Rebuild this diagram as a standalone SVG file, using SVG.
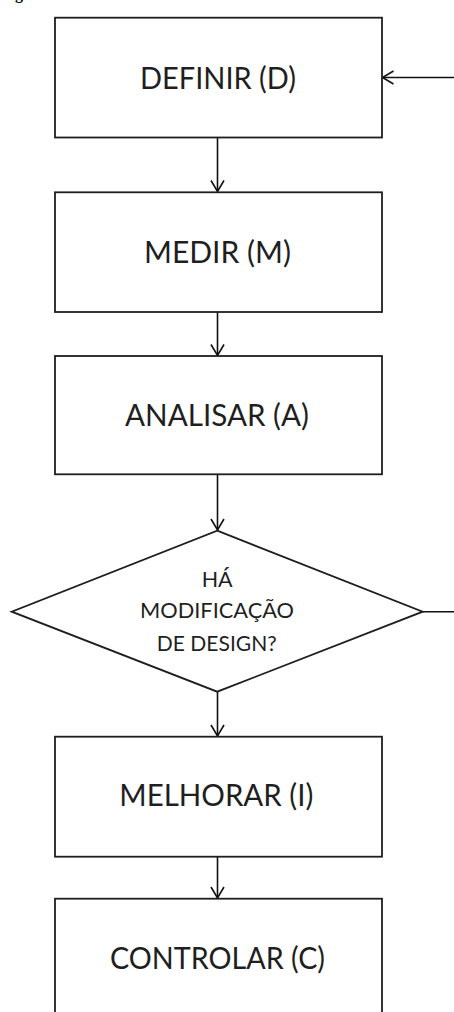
<svg xmlns="http://www.w3.org/2000/svg" width="454" height="1012" viewBox="0 0 454 1012">
<style>
.box{fill:#fff;stroke:#1e1e1e;stroke-width:1.8}
.lbl{font-family:Lato,"Open Sans",sans-serif;font-size:30px;fill:#1f1f1f;text-anchor:middle}
.dl{font-family:Lato,"Open Sans",sans-serif;font-size:21px;fill:#1f1f1f;text-anchor:middle}
.con{fill:none;stroke:#111;stroke-width:1.6}
.cap{font-family:"Liberation Serif",serif;font-weight:bold;font-size:16px;fill:#111}
</style>
<defs>
<marker id="arr" markerUnits="userSpaceOnUse" markerWidth="30" markerHeight="30" viewBox="-15 -15 30 30" refX="0" refY="0" orient="auto">
<path d="M-11,-6.5 L0,0 L-11,6.5" fill="none" stroke="#111" stroke-width="1.6"/>
</marker>
</defs>
<rect width="454" height="1012" fill="#fff"/>
<text class="cap" x="15" y="-1.5">g</text>
<g id="connectors">
<line class="con" x1="217.5" y1="137.5" x2="217.5" y2="191.5" marker-end="url(#arr)"/>
<line class="con" x1="217.5" y1="312" x2="217.5" y2="355.5" marker-end="url(#arr)"/>
<line class="con" x1="217.5" y1="474.3" x2="217.5" y2="530" marker-end="url(#arr)"/>
<line class="con" x1="217.5" y1="691.7" x2="217.5" y2="736" marker-end="url(#arr)"/>
<line class="con" x1="217.5" y1="856.7" x2="217.5" y2="898" marker-end="url(#arr)"/>
<path class="con" d="M422.7,611.7 H470 V77.5 H382.5" marker-end="url(#arr)"/>
</g>
<g id="definir">
<rect class="box" x="55" y="17.7" width="327" height="119.8"/>
<text class="lbl" x="218" y="89.3" textLength="156" lengthAdjust="spacingAndGlyphs">DEFINIR (D)</text>
</g>
<g id="medir">
<rect class="box" x="55" y="192.3" width="327" height="119.7"/>
<text class="lbl" x="217.5" y="263.3" textLength="147" lengthAdjust="spacingAndGlyphs">MEDIR (M)</text>
</g>
<g id="analisar">
<rect class="box" x="55" y="356" width="327" height="118.3"/>
<text class="lbl" x="217" y="425.7" textLength="184" lengthAdjust="spacingAndGlyphs">ANALISAR (A)</text>
</g>
<g id="decisao">
<polygon class="box" points="217.2,530.7 422.7,611.7 217.2,691.7 11.7,611.7"/>
<text class="dl" x="217.2" y="586.7" textLength="31" lengthAdjust="spacingAndGlyphs">HÁ</text>
<text class="dl" x="217" y="618.3" textLength="154" lengthAdjust="spacingAndGlyphs">MODIFICAÇÃO</text>
<text class="dl" x="216.7" y="650.7" textLength="120" lengthAdjust="spacingAndGlyphs">DE DESIGN?</text>
</g>
<g id="melhorar">
<rect class="box" x="55" y="736.7" width="327" height="120"/>
<text class="lbl" x="216.3" y="806" textLength="194" lengthAdjust="spacingAndGlyphs">MELHORAR (I)</text>
</g>
<g id="controlar">
<rect class="box" x="55" y="898.7" width="327" height="121"/>
<text class="lbl" x="217.5" y="969.3" textLength="215" lengthAdjust="spacingAndGlyphs">CONTROLAR (C)</text>
</g>
</svg>
